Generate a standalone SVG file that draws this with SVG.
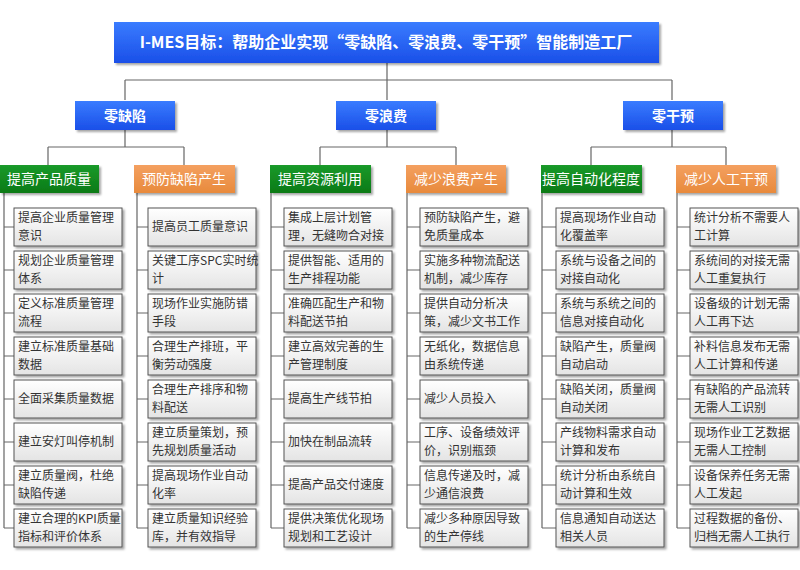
<svg xmlns="http://www.w3.org/2000/svg" width="800" height="570" viewBox="0 0 800 570">
<defs>
<linearGradient id="gb" x1="0" y1="0" x2="0" y2="1"><stop offset="0" stop-color="#3a7cff"/><stop offset="1" stop-color="#1a4fe8"/></linearGradient>
<linearGradient id="gg" x1="0" y1="0" x2="0" y2="1"><stop offset="0" stop-color="#1a9a2a"/><stop offset="1" stop-color="#0a7a16"/></linearGradient>
<linearGradient id="go" x1="0" y1="0" x2="0" y2="1"><stop offset="0" stop-color="#f4a060"/><stop offset="1" stop-color="#e88a3c"/></linearGradient>
<linearGradient id="gl" x1="0" y1="0" x2="0" y2="1"><stop offset="0" stop-color="#ffffff"/><stop offset="1" stop-color="#e4e4e4"/></linearGradient>
<filter id="sh" x="-10%" y="-10%" width="130%" height="140%"><feDropShadow dx="2" dy="2" stdDeviation="1.2" flood-color="#000" flood-opacity="0.35"/></filter>
</defs>
<style>
.h{filter:url(#sh)}
.t{font-family:"Noto Sans CJK SC","Noto Sans",sans-serif;fill:#fff;text-anchor:middle}
.b{font-weight:bold}
.lf{fill:url(#gl);stroke:#555;stroke-width:1;filter:url(#sh)}
.lt{font-family:"Noto Sans CJK SC",sans-serif;font-size:12px;fill:#333}
.c{stroke:#666;stroke-width:1.2;fill:none}
</style>
<rect width="800" height="570" fill="#fff"/>
<g id="connectors" class="c">
<path d="M387 62V80M125 80H672M125 80V100M387 80V100M672 80V100"/>
<path d="M125 130V147M48 147H184M48 147V165M184 147V165"/>
<path d="M387 130V147M320 147H456M320 147V165M456 147V165"/>
<path d="M672 130V147M591 147H726M591 147V165M726 147V165"/>
<path d="M4 193V528M137 193V528M271 193V528M407 193V528M542 193V528M677 193V528"/>
<path d="M4 227H14M4 270H14M4 313H14M4 356H14M4 399H14M4 442H14M4 485H14M4 528H14"/>
<path d="M137 227H148M137 270H148M137 313H148M137 356H148M137 399H148M137 442H148M137 485H148M137 528H148"/>
<path d="M271 227H284M271 270H284M271 313H284M271 356H284M271 399H284M271 442H284M271 485H284M271 528H284"/>
<path d="M407 227H420M407 270H420M407 313H420M407 356H420M407 399H420M407 442H420M407 485H420M407 528H420"/>
<path d="M542 227H556M542 270H556M542 313H556M542 356H556M542 399H556M542 442H556M542 485H556M542 528H556"/>
<path d="M677 227H690M677 270H690M677 313H690M677 356H690M677 399H690M677 442H690M677 485H690M677 528H690"/>
</g>
<g id="title"><rect class="h" x="114" y="22" width="545" height="41" fill="url(#gb)"/><text class="t b" x="386" y="48" font-size="16">I-MES目标：帮助企业实现“零缺陷、零浪费、零干预”智能制造工厂</text></g>
<g id="l2a"><rect class="h" x="75" y="101" width="100" height="29" fill="url(#gb)"/><text class="t b" x="125" y="121" font-size="14">零缺陷</text></g>
<g id="l2b"><rect class="h" x="336" y="101" width="100" height="29" fill="url(#gb)"/><text class="t b" x="386" y="121" font-size="14">零浪费</text></g>
<g id="l2c"><rect class="h" x="623" y="101" width="100" height="29" fill="url(#gb)"/><text class="t b" x="673" y="121" font-size="14">零干预</text></g>
<g id="l3a"><rect class="h" x="0" y="165" width="99" height="28" fill="url(#gg)"/><text class="t" x="49" y="184" font-size="14">提高产品质量</text></g>
<g id="l3b"><rect class="h" x="134" y="165" width="101" height="28" fill="url(#go)"/><text class="t" x="184" y="184" font-size="14">预防缺陷产生</text></g>
<g id="l3c"><rect class="h" x="270" y="165" width="101" height="28" fill="url(#gg)"/><text class="t" x="320" y="184" font-size="14">提高资源利用</text></g>
<g id="l3d"><rect class="h" x="406" y="165" width="100" height="28" fill="url(#go)"/><text class="t" x="456" y="184" font-size="14">减少浪费产生</text></g>
<g id="l3e"><rect class="h" x="541" y="165" width="101" height="28" fill="url(#gg)"/><text class="t" x="591" y="184" font-size="14">提高自动化程度</text></g>
<g id="l3f"><rect class="h" x="676" y="165" width="100" height="28" fill="url(#go)"/><text class="t" x="726" y="184" font-size="14">减少人工干预</text></g>
<g id="col1">
<rect class="lf" x="14" y="208" width="108" height="38"/><text class="lt" x="18" y="222">提高企业质量管理</text><text class="lt" x="18" y="240">意识</text>
<rect class="lf" x="14" y="251" width="108" height="38"/><text class="lt" x="18" y="265">规划企业质量管理</text><text class="lt" x="18" y="283">体系</text>
<rect class="lf" x="14" y="294" width="108" height="38"/><text class="lt" x="18" y="308">定义标准质量管理</text><text class="lt" x="18" y="326">流程</text>
<rect class="lf" x="14" y="337" width="108" height="38"/><text class="lt" x="18" y="351">建立标准质量基础</text><text class="lt" x="18" y="369">数据</text>
<rect class="lf" x="14" y="380" width="108" height="38"/><text class="lt" x="18" y="403">全面采集质量数据</text>
<rect class="lf" x="14" y="423" width="108" height="38"/><text class="lt" x="18" y="446">建立安灯叫停机制</text>
<rect class="lf" x="14" y="466" width="108" height="38"/><text class="lt" x="18" y="480">建立质量阀，杜绝</text><text class="lt" x="18" y="498">缺陷传递</text>
<rect class="lf" x="14" y="509" width="108" height="38"/><text class="lt" x="18" y="523">建立合理的KPI质量</text><text class="lt" x="18" y="541">指标和评价体系</text>
</g>
<g id="col2">
<rect class="lf" x="148" y="208" width="108" height="38"/><text class="lt" x="152" y="231">提高员工质量意识</text>
<rect class="lf" x="148" y="251" width="108" height="38"/><text class="lt" x="152" y="265">关键工序SPC实时统</text><text class="lt" x="152" y="283">计</text>
<rect class="lf" x="148" y="294" width="108" height="38"/><text class="lt" x="152" y="308">现场作业实施防错</text><text class="lt" x="152" y="326">手段</text>
<rect class="lf" x="148" y="337" width="108" height="38"/><text class="lt" x="152" y="351">合理生产排班，平</text><text class="lt" x="152" y="369">衡劳动强度</text>
<rect class="lf" x="148" y="380" width="108" height="38"/><text class="lt" x="152" y="394">合理生产排序和物</text><text class="lt" x="152" y="412">料配送</text>
<rect class="lf" x="148" y="423" width="108" height="38"/><text class="lt" x="152" y="437">建立质量策划，预</text><text class="lt" x="152" y="455">先规划质量活动</text>
<rect class="lf" x="148" y="466" width="108" height="38"/><text class="lt" x="152" y="480">提高现场作业自动</text><text class="lt" x="152" y="498">化率</text>
<rect class="lf" x="148" y="509" width="108" height="38"/><text class="lt" x="152" y="523">建立质量知识经验</text><text class="lt" x="152" y="541">库，并有效指导</text>
</g>
<g id="col3">
<rect class="lf" x="284" y="208" width="108" height="38"/><text class="lt" x="288" y="222">集成上层计划管</text><text class="lt" x="288" y="240">理，无缝吻合对接</text>
<rect class="lf" x="284" y="251" width="108" height="38"/><text class="lt" x="288" y="265">提供智能、适用的</text><text class="lt" x="288" y="283">生产排程功能</text>
<rect class="lf" x="284" y="294" width="108" height="38"/><text class="lt" x="288" y="308">准确匹配生产和物</text><text class="lt" x="288" y="326">料配送节拍</text>
<rect class="lf" x="284" y="337" width="108" height="38"/><text class="lt" x="288" y="351">建立高效完善的生</text><text class="lt" x="288" y="369">产管理制度</text>
<rect class="lf" x="284" y="380" width="108" height="38"/><text class="lt" x="288" y="403">提高生产线节拍</text>
<rect class="lf" x="284" y="423" width="108" height="38"/><text class="lt" x="288" y="446">加快在制品流转</text>
<rect class="lf" x="284" y="466" width="108" height="38"/><text class="lt" x="288" y="489">提高产品交付速度</text>
<rect class="lf" x="284" y="509" width="108" height="38"/><text class="lt" x="288" y="523">提供决策优化现场</text><text class="lt" x="288" y="541">规划和工艺设计</text>
</g>
<g id="col4">
<rect class="lf" x="420" y="208" width="108" height="38"/><text class="lt" x="424" y="222">预防缺陷产生，避</text><text class="lt" x="424" y="240">免质量成本</text>
<rect class="lf" x="420" y="251" width="108" height="38"/><text class="lt" x="424" y="265">实施多种物流配送</text><text class="lt" x="424" y="283">机制，减少库存</text>
<rect class="lf" x="420" y="294" width="108" height="38"/><text class="lt" x="424" y="308">提供自动分析决</text><text class="lt" x="424" y="326">策，减少文书工作</text>
<rect class="lf" x="420" y="337" width="108" height="38"/><text class="lt" x="424" y="351">无纸化，数据信息</text><text class="lt" x="424" y="369">由系统传递</text>
<rect class="lf" x="420" y="380" width="108" height="38"/><text class="lt" x="424" y="403">减少人员投入</text>
<rect class="lf" x="420" y="423" width="108" height="38"/><text class="lt" x="424" y="437">工序、设备绩效评</text><text class="lt" x="424" y="455">价，识别瓶颈</text>
<rect class="lf" x="420" y="466" width="108" height="38"/><text class="lt" x="424" y="480">信息传递及时，减</text><text class="lt" x="424" y="498">少通信浪费</text>
<rect class="lf" x="420" y="509" width="108" height="38"/><text class="lt" x="424" y="523">减少多种原因导致</text><text class="lt" x="424" y="541">的生产停线</text>
</g>
<g id="col5">
<rect class="lf" x="556" y="208" width="108" height="38"/><text class="lt" x="560" y="222">提高现场作业自动</text><text class="lt" x="560" y="240">化覆盖率</text>
<rect class="lf" x="556" y="251" width="108" height="38"/><text class="lt" x="560" y="265">系统与设备之间的</text><text class="lt" x="560" y="283">对接自动化</text>
<rect class="lf" x="556" y="294" width="108" height="38"/><text class="lt" x="560" y="308">系统与系统之间的</text><text class="lt" x="560" y="326">信息对接自动化</text>
<rect class="lf" x="556" y="337" width="108" height="38"/><text class="lt" x="560" y="351">缺陷产生，质量阀</text><text class="lt" x="560" y="369">自动启动</text>
<rect class="lf" x="556" y="380" width="108" height="38"/><text class="lt" x="560" y="394">缺陷关闭，质量阀</text><text class="lt" x="560" y="412">自动关闭</text>
<rect class="lf" x="556" y="423" width="108" height="38"/><text class="lt" x="560" y="437">产线物料需求自动</text><text class="lt" x="560" y="455">计算和发布</text>
<rect class="lf" x="556" y="466" width="108" height="38"/><text class="lt" x="560" y="480">统计分析由系统自</text><text class="lt" x="560" y="498">动计算和生效</text>
<rect class="lf" x="556" y="509" width="108" height="38"/><text class="lt" x="560" y="523">信息通知自动送达</text><text class="lt" x="560" y="541">相关人员</text>
</g>
<g id="col6">
<rect class="lf" x="690" y="208" width="108" height="38"/><text class="lt" x="694" y="222">统计分析不需要人</text><text class="lt" x="694" y="240">工计算</text>
<rect class="lf" x="690" y="251" width="108" height="38"/><text class="lt" x="694" y="265">系统间的对接无需</text><text class="lt" x="694" y="283">人工重复执行</text>
<rect class="lf" x="690" y="294" width="108" height="38"/><text class="lt" x="694" y="308">设备级的计划无需</text><text class="lt" x="694" y="326">人工再下达</text>
<rect class="lf" x="690" y="337" width="108" height="38"/><text class="lt" x="694" y="351">补料信息发布无需</text><text class="lt" x="694" y="369">人工计算和传递</text>
<rect class="lf" x="690" y="380" width="108" height="38"/><text class="lt" x="694" y="394">有缺陷的产品流转</text><text class="lt" x="694" y="412">无需人工识别</text>
<rect class="lf" x="690" y="423" width="108" height="38"/><text class="lt" x="694" y="437">现场作业工艺数据</text><text class="lt" x="694" y="455">无需人工控制</text>
<rect class="lf" x="690" y="466" width="108" height="38"/><text class="lt" x="694" y="480">设备保养任务无需</text><text class="lt" x="694" y="498">人工发起</text>
<rect class="lf" x="690" y="509" width="108" height="38"/><text class="lt" x="694" y="523">过程数据的备份、</text><text class="lt" x="694" y="541">归档无需人工执行</text>
</g>
</svg>
